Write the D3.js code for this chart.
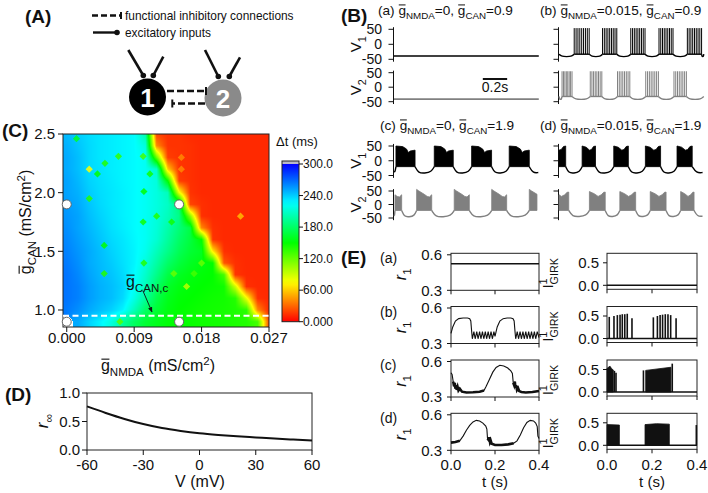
<!DOCTYPE html>
<html><head><meta charset="utf-8">
<script src="https://cdn.jsdelivr.net/npm/d3@7"></script>
<style>
body{margin:0;background:#fff;}
svg text{font-family:Arial,"Liberation Sans",Helvetica,sans-serif;fill:#111;}
</style></head><body>
<svg id="fig" width="708" height="493" xmlns="http://www.w3.org/2000/svg"></svg>
<script>
// ================= DATA =================
// Panel C: heat map of Δt (ms)
const cNMDA = [0,0.0015,0.003,0.0045,0.006,0.0075,0.009,0.0105,0.012,0.0135,0.015,0.0165,0.018,0.0195,0.021,0.0225,0.024,0.0255,0.027];
const cCAN = [2.5,2.4,2.3,2.2,2.1,2.0,1.9,1.8,1.7,1.6,1.5,1.4,1.3,1.2,1.1,1.0,0.9];
const cDelta = [
 [245,240,235,232,230,228,226,200,20,15,15,12,12,12,12,12,12,12,12],
 [248,242,236,232,230,228,226,215,40,15,15,14,12,12,12,12,12,12,12],
 [250,244,236,232,230,228,226,222,120,18,15,14,12,12,12,12,12,12,12],
 [250,244,236,233,230,228,226,222,210,60,15,14,12,12,12,12,12,12,12],
 [252,246,238,234,231,228,226,222,215,150,18,14,12,12,12,12,12,12,12],
 [252,248,240,235,232,229,226,222,216,205,80,15,12,12,12,12,12,12,12],
 [254,250,242,236,232,229,226,222,216,208,185,20,14,12,12,12,12,12,12],
 [256,252,244,238,233,229,226,222,215,205,190,110,14,12,12,12,12,12,12],
 [258,252,246,240,234,230,226,222,214,200,185,170,40,14,12,12,12,12,12],
 [260,254,248,242,236,232,227,222,212,196,180,168,150,15,12,12,12,12,12],
 [262,256,250,244,238,233,228,220,205,190,175,165,160,70,14,12,12,12,12],
 [264,258,250,245,240,234,228,215,198,180,168,160,155,150,25,14,12,12,12],
 [266,260,252,246,242,236,226,210,190,170,160,155,152,150,130,15,12,12,12],
 [266,262,254,248,244,238,224,205,180,162,155,152,150,148,146,90,14,12,12],
 [266,262,254,248,244,236,218,195,172,158,152,150,148,146,145,140,80,14,12],
 [264,258,250,244,238,228,205,180,165,155,150,148,146,145,144,142,138,40,12],
 [null,250,238,228,215,195,178,165,158,152,150,148,146,145,144,142,140,130,20]
];
// isolated grid points with a deviating Δt (small diamonds in the map): [gNMDA, gCAN, Δt]
const cSpots = [[0.0013,2.46,160],[0.003,2.2,75],[0.0041,2.16,150],[0.0051,2.25,140],[0.0069,2.31,135],[0.0102,2.31,130],
 [0.0111,2.16,145],[0.0103,2.01,150],[0.003,1.95,140],[0.0102,1.75,145],[0.012,1.8,140],[0.014,1.75,145],[0.005,1.55,150],
 [0.0103,1.4,140],[0.005,1.31,140],[0.0143,1.31,120],[0.016,1.2,95],[0.017,1.31,130],[0.018,1.4,120],[0.0071,0.9,125],
 [0.0232,1.8,55],[0.0153,2.3,40],[0.0153,2.2,40]];
const cXTicks = [0,0.009,0.018,0.027];
const cXTickLabels = ["0.000","0.009","0.018","0.027"];
const cYTicks = [1.0,1.5,2.0,2.5];
const cYTickLabels = ["1.0","1.5","2.0","2.5"];
const cMarkers = [[0,1.9],[0.015,1.9],[0,0.9],[0.015,0.9]];
const cCritical = 0.95;
const cbTicks = [0,60,120,180,240,300];
const cbTickLabels = ["0.000","60.00","120.0","180.0","240.0","300.0"];

// Panel D: r_inf(V)
const dV = [-60,-50,-40,-30,-20,-10,0,10,20,30,40,50,60];
const dRinf = [0.765,0.65,0.545,0.455,0.385,0.335,0.295,0.265,0.24,0.22,0.2,0.183,0.167];
const dXTicks = [-60,-30,0,30,60];
const dYTicks = [0,0.5,1.0];
const dYTickLabels = ["0.0","0.5","1.0"];

// Panel B: voltage traces (time in s, voltage in mV)
const bYTicks = [-50,0,50];
const bRestA = [-39,-41];
const bBurstsB1 = [[0.125,0.248],[0.358,0.475],[0.59,0.707],[0.822,0.937],[1.055,1.172]];
const bBurstsB2 = [[0.025,0.107],[0.257,0.352],[0.481,0.582],[0.713,0.817],[0.945,1.047]];
const bSpikesPerBurst = [9,8];
const bSpikePeak = [54,55];
const bBaseB = [-33,-32];
const bTroughB = [-41,-42];
const bBlocksC1 = [[0.016,0.173],[0.331,0.487],[0.638,0.802],[0.947,1.112]];
const bBlocksC2 = [[0.008,0.063,0.55,1],[0.186,0.31],[0.495,0.619],[0.803,0.926],[1.112,1.175,0,0.5]];
const bBlocksD1 = [[0,0.055,0.55,1],[0.19,0.30],[0.45,0.57],[0.71,0.835],[0.97,1.095]];
const bBlocksD2 = [[0,0.08,0.4,1],[0.25,0.38],[0.5,0.63],[0.75,0.88],[1.0,1.11]];
const bEnvC1 = [[0,50],[0.35,48],[0.55,40],[0.65,28],[0.75,33],[1,36]];
const bEnvC2 = [[0,56],[0.15,50],[0.5,38],[0.7,30],[0.85,28],[1,36]];
const bEnvD1 = [[0,50],[0.3,46],[0.55,36],[0.7,38],[0.85,48],[1,50]];
const bEnvD2 = [[0,48],[0.3,40],[0.55,30],[0.75,36],[0.9,45],[1,46]];
const bEndCD = [1.186,1.175,1.18,1.18];
const bBaseCD = [-20,-22,-20,-22];
const bTroughCD = [-42,-46,-42,-45];

// Panel E: r1 traces and I_GIRK traces (time in s)
const eR1a = [[0,0.525],[0.4,0.525]];
const eR1b = [[0,0.385],[0.008,0.44],[0.02,0.49],[0.035,0.51],[0.055,0.515],[0.075,0.515],[0.085,0.51],[0.09,0.49],[0.094,0.40],[0.097,0.34],
 [0.104,0.40],[0.11,0.34],[0.117,0.40],[0.123,0.34],[0.13,0.40],[0.136,0.34],[0.143,0.40],[0.149,0.34],[0.156,0.40],[0.162,0.34],[0.169,0.40],[0.175,0.34],[0.182,0.40],[0.188,0.34],[0.195,0.40],[0.2,0.36],
 [0.21,0.44],[0.222,0.49],[0.237,0.51],[0.255,0.515],[0.272,0.515],[0.282,0.51],[0.287,0.49],[0.291,0.40],[0.294,0.34],
 [0.301,0.40],[0.307,0.34],[0.314,0.40],[0.32,0.34],[0.327,0.40],[0.333,0.34],[0.34,0.40],[0.346,0.34],[0.353,0.40],[0.359,0.34],[0.366,0.40],[0.372,0.34],[0.379,0.40],[0.385,0.34],[0.392,0.40],[0.4,0.35]];
const eR1c = [[0,0.505],[0.005,0.49],[0.01,0.43],[0.014,0.39],[0.017,0.42],[0.02,0.37],[0.023,0.40],[0.026,0.36],[0.03,0.385],[0.034,0.355],[0.04,0.37],[0.05,0.345],[0.07,0.338],[0.1,0.34],[0.13,0.345],[0.15,0.355],[0.16,0.39],[0.175,0.45],[0.19,0.51],[0.205,0.55],[0.222,0.568],[0.24,0.562],[0.258,0.545],[0.272,0.52],[0.279,0.50],[0.283,0.42],[0.287,0.40],[0.29,0.43],[0.293,0.38],[0.296,0.40],[0.3,0.36],[0.305,0.375],[0.31,0.35],[0.32,0.342],[0.34,0.338],[0.37,0.342],[0.4,0.35]];
const eR1d = [[0,0.365],[0.02,0.37],[0.04,0.38],[0.055,0.42],[0.07,0.47],[0.085,0.51],[0.1,0.54],[0.115,0.553],[0.13,0.548],[0.145,0.53],[0.158,0.505],[0.163,0.48],[0.166,0.40],[0.17,0.39],[0.173,0.41],[0.177,0.37],[0.18,0.385],[0.185,0.355],[0.2,0.345],[0.23,0.345],[0.26,0.35],[0.285,0.36],[0.3,0.38],[0.315,0.43],[0.33,0.49],[0.345,0.535],[0.36,0.553],[0.375,0.548],[0.385,0.53],[0.392,0.50],[0.395,0.42],[0.4,0.40]];
const eR1Noise = [[], [], [[0.01,0.15],[0.283,0.4]], [[0,0.045],[0.166,0.29]]];
const eISpikes = [
 [],
 [[0.010,0.48],[0.031,0.5],[0.046,0.52],[0.058,0.53],[0.068,0.54],[0.079,0.54],[0.090,0.55],[0.111,0.45],[0.206,0.47],[0.224,0.5],[0.236,0.52],[0.247,0.53],[0.259,0.54],[0.271,0.54],[0.283,0.52],[0.307,0.45]],
 [[0.033,0.47],[0.04,0.43],[0.162,0.48],[0.29,0.63]],
 [[0.397,0.45]]
];
const eIBlocks = [
 [],
 [],
 [[[0,0.52],[0.008,0.56],[0.014,0.57],[0.02,0.52],[0.028,0.49]], [[0.172,0.48],[0.284,0.55]]],
 [[[0,0.46],[0.055,0.45]], [[0.169,0.46],[0.22,0.48],[0.277,0.47]]]
];
const eXTicks = [0,0.2,0.4];
const eXTickLabels = ["0.0","0.2","0.4"];
const eR1Ticks = [0.3,0.6];
const eITicks = [0,0.5];
const eRowLabels = ["(a)","(b)","(c)","(d)"];

// ================= HELPERS =================
const svg = d3.select("#fig");
function rich(parent, x, y, parts, fs, anchor, color) {
  color = color || "#111";
  const t = parent.append("text").attr("x",x).attr("y",y).attr("font-size",fs)
    .attr("text-anchor",anchor||"start").style("fill",color).attr("xml:space","preserve");
  let shift = 0, idx = 0; const bars = [];
  parts.forEach(p => {
    const target = p.sub ? fs*0.3 : (p.sup ? -fs*0.4 : 0);
    const ts = t.append("tspan").text(p.t);
    if (target !== shift) { ts.attr("dy", target - shift); shift = target; }
    if (p.dx) ts.attr("dx", p.dx);
    if (p.sub || p.sup) ts.attr("font-size", fs*0.72);
    if (p.italic) ts.style("font-style","italic");
    if (p.bar) bars.push({idx, sh: shift, f: (p.sub||p.sup)? fs*0.72 : fs});
    idx += p.t.length;
  });
  bars.forEach(b => {
    const e = t.node().getExtentOfChar(b.idx);
    const yy = y + b.sh - b.f*0.74;
    parent.append("line").attr("x1", e.x + e.width*0.05).attr("x2", e.x + e.width*0.95)
      .attr("y1", yy).attr("y2", yy).attr("stroke", color).attr("stroke-width", Math.max(1, b.f*0.07));
  });
  return t;
}
function plain(parent, x, y, s, fs, anchor, extra) {
  const t = parent.append("text").attr("x",x).attr("y",y).attr("font-size",fs).attr("text-anchor",anchor||"start").text(s);
  if (extra) Object.entries(extra).forEach(([k,v]) => t.attr(k,v));
  return t;
}
function envAt(env, f) {
  for (let i = 1; i < env.length; i++) {
    if (f <= env[i][0]) { const a = env[i-1], b = env[i]; return a[1] + (b[1]-a[1]) * (f-a[0])/(b[0]-a[0]); }
  }
  return env[env.length-1][1];
}
const BOLD = 19;

// ================= PANEL A =================
const gA = svg.append("g");
plain(gA, 25, 23, "(A)", BOLD, "start", {"font-weight":"bold"});
gA.append("line").attr("x1",92).attr("x2",120).attr("y1",15.5).attr("y2",15.5).attr("stroke","#111").attr("stroke-width",2.6).attr("stroke-dasharray","6,3");
gA.append("line").attr("x1",121).attr("x2",121).attr("y1",12).attr("y2",19).attr("stroke","#111").attr("stroke-width",2);
plain(gA, 125, 20, "functional inhibitory connections", 11.9);
gA.append("line").attr("x1",93).attr("x2",116).attr("y1",32.5).attr("y2",32.5).attr("stroke","#111").attr("stroke-width",2.4);
gA.append("circle").attr("cx",117).attr("cy",32.5).attr("r",2.8).attr("fill","#111");
plain(gA, 125, 37, "excitatory inputs", 11.9);
[[128.3,50,143.3,75.5],[163.3,56.7,153.3,75.5],[205,50,218.3,76.5],[240,57.3,229.3,76.5]].forEach(l => {
  gA.append("line").attr("x1",l[0]).attr("y1",l[1]).attr("x2",l[2]).attr("y2",l[3]).attr("stroke","#111").attr("stroke-width",2.6);
  gA.append("circle").attr("cx",l[2]).attr("cy",l[3]).attr("r",2.8).attr("fill","#111");
});
gA.append("circle").attr("cx",147.5).attr("cy",97).attr("r",18.5).attr("fill","#000");
gA.append("circle").attr("cx",223).attr("cy",98).attr("r",18.5).attr("fill","#8a8a8a");
plain(gA, 147.5, 106.5, "1", 26, "middle", {"font-weight":"bold"}).style("fill","#fff");
plain(gA, 223, 107.5, "2", 26, "middle", {"font-weight":"bold"}).style("fill","#fff");
gA.append("line").attr("x1",167).attr("x2",205).attr("y1",91).attr("y2",91).attr("stroke","#111").attr("stroke-width",2.4).attr("stroke-dasharray","7,3");
gA.append("line").attr("x1",206).attr("x2",206).attr("y1",87).attr("y2",95).attr("stroke","#111").attr("stroke-width",2);
gA.append("line").attr("x1",205).attr("x2",173).attr("y1",103.5).attr("y2",103.5).attr("stroke","#111").attr("stroke-width",2.4).attr("stroke-dasharray","7,3");
gA.append("line").attr("x1",172.3).attr("x2",172.3).attr("y1",99.5).attr("y2",107.5).attr("stroke","#111").attr("stroke-width",2);

// ================= PANEL B =================
const gB = svg.append("g");
plain(gB, 341, 22, "(B)", BOLD, "start", {"font-weight":"bold"});
const bX = [d3.scaleLinear().domain([0,1.2]).range([394,540]), d3.scaleLinear().domain([0,1.2]).range([559,705])];
const bAxisX = [393.5, 558.5];
const bY = [
  [d3.scaleLinear().domain([-50,50]).range([59.3,29.3]), d3.scaleLinear().domain([-50,50]).range([101.7,72.7])],
  [d3.scaleLinear().domain([-50,50]).range([175.5,146]), d3.scaleLinear().domain([-50,50]).range([218,191])]
];
const bCol = ["#000","#808080"];
[0,1].forEach(r => [0,1].forEach(c => [0,1].forEach(n => {
  const y = bY[r][n], ax = bAxisX[c];
  gB.append("line").attr("x1",ax).attr("x2",ax).attr("y1",y(57)).attr("y2",y(-58)).attr("stroke","#111").attr("stroke-width",1);
  bYTicks.forEach(v => {
    gB.append("line").attr("x1",ax-5).attr("x2",ax).attr("y1",y(v)).attr("y2",y(v)).attr("stroke","#111").attr("stroke-width",1);
    if (c === 0) plain(gB, 382, y(v), String(v), 14, "end", {"dy":"0.36em"});
  });
  if (c === 0) {
    const cy = (y(50)+y(-50))/2;
    const g = gB.append("g").attr("transform",`translate(361,${cy}) rotate(-90)`);
    rich(g, 0, 0, [{t:"V"},{t:String(n+1), sub:true}], 15, "middle");
  }
})));
const bTitles = [[378,15,"(a)","0","0.9"],[540,15,"(b)","0.015","0.9"],[380,130,"(c)","0","1.9"],[540,130,"(d)","0.015","1.9"]];
bTitles.forEach(tt => rich(gB, tt[0], tt[1], [{t:tt[2]+" "},{t:"g",bar:true},{t:"NMDA",sub:true},{t:"="+tt[3]+", "},{t:"g",bar:true},{t:"CAN",sub:true},{t:"="+tt[4]}], 13.6));
[0,1].forEach(n => {
  gB.append("line").attr("x1",bX[0](0)).attr("x2",bX[0](1.19)).attr("y1",bY[0][n](bRestA[n])).attr("y2",bY[0][n](bRestA[n]))
    .attr("stroke",bCol[n]).attr("stroke-width",1.6);
});
gB.append("line").attr("x1",bX[0](0.73)).attr("x2",bX[0](0.93)).attr("y1",79).attr("y2",79).attr("stroke","#111").attr("stroke-width",2);
plain(gB, bX[0](0.83), 92, "0.2s", 14, "middle");
const lineBasis = d3.line().curve(d3.curveBasis);
[bBurstsB1, bBurstsB2].forEach((bursts, n) => {
  const x = bX[1], y = bY[0][n], base = bBaseB[n], tr = bTroughB[n];
  const g = gB.append("g").attr("stroke",bCol[n]).attr("fill","none");
  const edges = [0, ...bursts.flat(), 1.19];
  for (let i = 0; i < edges.length; i += 2) {
    const a = edges[i], b = edges[i+1], gw = b - a;
    if (gw <= 0) continue;
    const pts = [[a,base],[a+0.2*gw,tr],[a+0.5*gw,tr],[b-0.2*gw,tr],[b,base]].map(p => [x(p[0]), y(p[1])]);
    g.append("path").attr("d", lineBasis(pts)).attr("stroke-width",1.4);
  }
  bursts.forEach(bu => {
    g.append("line").attr("x1",x(bu[0])).attr("x2",x(bu[1])).attr("y1",y(base)).attr("y2",y(base)).attr("stroke-width",1.4);
    const ns = bSpikesPerBurst[n];
    d3.range(ns).forEach(k => {
      const t = bu[0] + k*(bu[1]-bu[0])/(ns-1);
      g.append("line").attr("x1",x(t)).attr("x2",x(t)).attr("y1",y(base)).attr("y2",y(bSpikePeak[n])).attr("stroke-width",1);
    });
  });
});
const cdSpecs = [[bBlocksC1,bEnvC1,0,0],[bBlocksC2,bEnvC2,0,1],[bBlocksD1,bEnvD1,1,0],[bBlocksD2,bEnvD2,1,1]];
cdSpecs.forEach((sp, k) => {
  const [blocks, env, c, n] = sp;
  const x = bX[c], y = bY[1][n], base = bBaseCD[k], tr = bTroughCD[k], tEnd = bEndCD[k];
  const g = gB.append("g");
  const edges = [0, ...blocks.map(b => [b[0], b[1]]).flat(), tEnd];
  for (let i = 0; i < edges.length; i += 2) {
    const a = edges[i], b = edges[i+1], gw = b - a;
    if (gw <= 0.002) continue;
    let pts;
    if (i === 0) pts = [[a,tr+6],[a+0.5*gw,tr+3],[b,base]];
    else if (i === edges.length-2) pts = [[a,base],[a+Math.min(0.05,0.4*gw),tr],[b,tr+2]];
    else pts = [[a,base],[a+0.18*gw,tr],[a+0.5*gw,tr],[b-0.15*gw,tr+4],[b,base]];
    g.append("path").attr("d", lineBasis(pts.map(p => [x(p[0]), y(p[1])]))).attr("fill","none").attr("stroke",bCol[n]).attr("stroke-width",1.4);
  }
  blocks.forEach(bl => {
    const t0 = bl[0], t1 = bl[1], f0 = bl.length > 2 ? bl[2] : 0, f1 = bl.length > 2 ? bl[3] : 1;
    const fsArr = [f0, ...env.map(e => e[0]).filter(f => f > f0 && f < f1), f1];
    const pts = [[x(t0), y(base)]];
    fsArr.forEach(f => pts.push([x(t0 + (f-f0)/(f1-f0)*(t1-t0)), y(envAt(env,f))]));
    pts.push([x(t1), y(base)]);
    g.append("path").attr("d", d3.line()(pts) + "Z").attr("fill",bCol[n]).attr("stroke",bCol[n]).attr("stroke-width",0.8);
  });
});

// ================= PANEL C =================
const gC = svg.append("g");
plain(gC, 2, 137, "(C)", BOLD, "start", {"font-weight":"bold"});
const cx = d3.scaleLinear().domain([-0.0005, 0.027]).range([63, 269]);
const cy = d3.scaleLinear().domain([0.855, 2.5]).range([327, 134]);
const colorOf = v => d3.hsl(240*Math.max(0,Math.min(300,v))/300, 1, 0.5);
{
  const W = 206, H = 193;
  const canvas = document.createElement("canvas"); canvas.width = W; canvas.height = H;
  const ctx = canvas.getContext("2d"); const img = ctx.createImageData(W, H);
  const xi = d3.scaleLinear().domain(cNMDA).range(d3.range(cNMDA.length)).clamp(true);
  const yi = d3.scaleLinear().domain(cCAN).range(d3.range(cCAN.length)).clamp(true);
  for (let py = 0; py < H; py++) {
    const fj = yi(cy.invert(134 + py + 0.5));
    const j0 = Math.floor(fj), j1 = Math.min(j0+1, cCAN.length-1), ty = fj - j0;
    for (let px = 0; px < W; px++) {
      const fi = xi(cx.invert(63 + px + 0.5));
      const i0 = Math.floor(fi), i1 = Math.min(i0+1, cNMDA.length-1), tx = fi - i0;
      const corners = [[cDelta[j0][i0],(1-tx)*(1-ty)],[cDelta[j0][i1],tx*(1-ty)],[cDelta[j1][i0],(1-tx)*ty],[cDelta[j1][i1],tx*ty]];
      let s = 0, w = 0, wn = 0;
      corners.forEach(([v,wt]) => { if (v === null) wn += wt; else { s += v*wt; w += wt; } });
      const o = (py*W + px)*4;
      if (wn > 0.45 || w === 0) { img.data[o]=255; img.data[o+1]=255; img.data[o+2]=255; img.data[o+3]=255; continue; }
      const c = d3.rgb(colorOf(s/w));
      img.data[o]=c.r; img.data[o+1]=c.g; img.data[o+2]=c.b; img.data[o+3]=255;
    }
  }
  ctx.putImageData(img, 0, 0);
  gC.append("image").attr("x",63).attr("y",134).attr("width",W).attr("height",H).attr("href", canvas.toDataURL());
}
cSpots.forEach(s => {
  const px = cx(s[0]), py = cy(s[1]);
  gC.append("path").attr("d", `M${px},${py-3.6}L${px+3.6},${py}L${px},${py+3.6}L${px-3.6},${py}Z`)
    .attr("fill", colorOf(s[2]).formatHex()).attr("opacity",0.85);
});
gC.append("rect").attr("x",63).attr("y",134).attr("width",206).attr("height",193).attr("fill","none").attr("stroke","#222").attr("stroke-width",1);
cXTicks.forEach((v,i) => {
  gC.append("line").attr("x1",cx(v)).attr("x2",cx(v)).attr("y1",327).attr("y2",332).attr("stroke","#111");
  plain(gC, cx(v), 343, cXTickLabels[i], 15, "middle");
});
cYTicks.forEach((v,i) => {
  gC.append("line").attr("x1",58).attr("x2",63).attr("y1",cy(v)).attr("y2",cy(v)).attr("stroke","#111");
  plain(gC, 55, cy(v), cYTickLabels[i], 15, "end", {"dy":"0.36em"});
});
gC.append("line").attr("x1",63).attr("x2",269).attr("y1",cy(cCritical)).attr("y2",cy(cCritical)).attr("stroke","#fff").attr("stroke-width",2).attr("stroke-dasharray","6,3.5");
cMarkers.forEach(m => gC.append("circle").attr("cx",cx(m[0])).attr("cy",cy(m[1])).attr("r",4.5).attr("fill","#fff").attr("stroke","#666").attr("stroke-width",1));
rich(gC, 126, 287, [{t:"g",bar:true},{t:"CAN,c",sub:true}], 16);
gC.append("defs").append("marker").attr("id","arr").attr("viewBox","0 0 10 10").attr("refX",9).attr("refY",5)
  .attr("markerWidth",6).attr("markerHeight",6).attr("orient","auto").append("path").attr("d","M0,1 L10,5 L0,9 Z").attr("fill","#111");
gC.append("line").attr("x1",143).attr("y1",291).attr("x2",152).attr("y2",312).attr("stroke","#111").attr("stroke-width",0.9).attr("marker-end","url(#arr)");
{
  const g = gC.append("g").attr("transform","translate(31,222) rotate(-90)");
  rich(g, 0, 0, [{t:"g",bar:true},{t:"CAN",sub:true},{t:" (mS/cm"},{t:"2",sup:true},{t:")"}], 16, "middle");
}
rich(gC, 158, 371, [{t:"g",bar:true},{t:"NMDA",sub:true},{t:" (mS/cm"},{t:"2",sup:true},{t:")"}], 16, "middle");
{
  const cbY = d3.scaleLinear().domain([0,300]).range([321.7,164]);
  const grad = svg.append("defs").append("linearGradient").attr("id","cbg").attr("x1",0).attr("x2",0).attr("y1",1).attr("y2",0);
  d3.range(0,301,10).forEach(v => grad.append("stop").attr("offset", v/300).attr("stop-color", colorOf(v).formatHex()));
  gC.append("rect").attr("x",282).attr("y",161).attr("width",17).attr("height",3).attr("fill","#b8b8c8");
  gC.append("rect").attr("x",282).attr("y",164).attr("width",17).attr("height",157.7).attr("fill","url(#cbg)");
  gC.append("rect").attr("x",282).attr("y",161).attr("width",17).attr("height",160.7).attr("fill","none").attr("stroke","#222").attr("stroke-width",1);
  cbTicks.forEach((v,i) => {
    gC.append("line").attr("x1",299).attr("x2",303).attr("y1",cbY(v)).attr("y2",cbY(v)).attr("stroke","#111");
    plain(gC, 303, cbY(v), cbTickLabels[i], 12, "start", {"dy":"0.36em"});
  });
  plain(gC, 276, 146, "Δt (ms)", 13, "start");
}

// ================= PANEL D =================
const gD = svg.append("g");
plain(gD, 5, 401, "(D)", BOLD, "start", {"font-weight":"bold"});
const dx = d3.scaleLinear().domain([-60,60]).range([87,312]);
const dy = d3.scaleLinear().domain([0,1]).range([450,393]);
gD.append("rect").attr("x",87).attr("y",393).attr("width",225).attr("height",57).attr("fill","none").attr("stroke","#222");
dXTicks.forEach(v => {
  gD.append("line").attr("x1",dx(v)).attr("x2",dx(v)).attr("y1",450).attr("y2",455).attr("stroke","#111");
  plain(gD, dx(v), 470, String(v), 15, "middle");
});
dYTicks.forEach((v,i) => {
  gD.append("line").attr("x1",82).attr("x2",87).attr("y1",dy(v)).attr("y2",dy(v)).attr("stroke","#111");
  plain(gD, 80, dy(v), dYTickLabels[i], 15, "end", {"dy":"0.36em"});
});
gD.append("path").attr("d", d3.line().curve(d3.curveMonotoneX)(dV.map((v,i) => [dx(v), dy(dRinf[i])]))).attr("fill","none").attr("stroke","#111").attr("stroke-width",2);
plain(gD, 200, 487, "V (mV)", 16, "middle");
{
  const g = gD.append("g").attr("transform","translate(48,421) rotate(-90)");
  rich(g, 0, 0, [{t:"r",italic:true},{t:"∞",sub:true}], 17, "middle");
}

// ================= PANEL E =================
const gE = svg.append("g");
plain(gE, 341, 264, "(E)", BOLD, "start", {"font-weight":"bold"});
const eTop = [253.3, 306.5, 360, 413.3];
const eXL = d3.scaleLinear().domain([0,0.4]).range([451,539]);
const eXR = d3.scaleLinear().domain([0,0.4]).range([607,697]);
const eR1 = [eR1a, eR1b, eR1c, eR1d];
eTop.forEach((top, r) => {
  const yR = d3.scaleLinear().domain([0.3,0.6]).range([top+37, top+1.5]);
  const yI = d3.scaleLinear().domain([0,0.5]).range([top+32, top+9.5]);
  plain(gE, 380, top+10, eRowLabels[r], 14);
  gE.append("rect").attr("x",451).attr("y",top).attr("width",88).attr("height",37).attr("fill","none").attr("stroke","#222");
  gE.append("rect").attr("x",607).attr("y",top).attr("width",90).attr("height",36).attr("fill","none").attr("stroke","#222");
  eXTicks.forEach((v,i) => {
    gE.append("line").attr("x1",eXL(v)).attr("x2",eXL(v)).attr("y1",top+37).attr("y2",top+41).attr("stroke","#111");
    gE.append("line").attr("x1",eXR(v)).attr("x2",eXR(v)).attr("y1",top+36).attr("y2",top+40).attr("stroke","#111");
    if (r === 3) {
      plain(gE, eXL(v), 470, eXTickLabels[i], 15, "middle");
      plain(gE, eXR(v), 470, eXTickLabels[i], 15, "middle");
    }
  });
  eR1Ticks.forEach(v => {
    gE.append("line").attr("x1",447).attr("x2",451).attr("y1",yR(v)).attr("y2",yR(v)).attr("stroke","#111");
    plain(gE, 442, yR(v), v.toFixed(1), 15, "end", {"dy":"0.36em"});
  });
  eITicks.forEach(v => {
    gE.append("line").attr("x1",603).attr("x2",607).attr("y1",yI(v)).attr("y2",yI(v)).attr("stroke","#111");
    plain(gE, 599, yI(v), v.toFixed(1), 15, "end", {"dy":"0.36em"});
  });
  {
    const g = gE.append("g").attr("transform",`translate(406,${top+21}) rotate(-90)`);
    rich(g, 0, 0, [{t:"r",italic:true},{t:"1",sub:true}], 16, "middle");
    const g2 = gE.append("g").attr("transform",`translate(553,${top+20}) rotate(-90)`);
    rich(g2, 0, 0, [{t:"I"},{t:"1",sup:true},{t:"GIRK",sub:true,dx:-6}], 15, "middle");
  }
  const line = d3.line().x(d => eXL(d[0])).y(d => yR(d[1]));
  gE.append("path").attr("d", line(eR1[r])).attr("fill","none").attr("stroke","#111").attr("stroke-width", r === 0 ? 1.6 : 1.1);
  eR1Noise[r].forEach(seg => {
    const pts = eR1[r].filter(p => p[0] >= seg[0] && p[0] <= seg[1]);
    if (pts.length > 1) gE.append("path").attr("d", line(pts)).attr("fill","none").attr("stroke","#111").attr("stroke-width",2.6);
  });
  gE.append("line").attr("x1",eXR(0)).attr("x2",eXR(0.4)).attr("y1",yI(0)).attr("y2",yI(0)).attr("stroke","#111").attr("stroke-width",1.4);
  eIBlocks[r].forEach(bl => {
    const pts = [[eXR(bl[0][0]), yI(0)], ...bl.map(p => [eXR(p[0]), yI(p[1])]), [eXR(bl[bl.length-1][0]), yI(0)]];
    gE.append("path").attr("d", d3.line()(pts)+"Z").attr("fill","#111").attr("stroke","#111").attr("stroke-width",0.8);
  });
  eISpikes[r].forEach(s => {
    gE.append("line").attr("x1",eXR(s[0])).attr("x2",eXR(s[0])).attr("y1",yI(0)).attr("y2",yI(s[1])).attr("stroke","#111").attr("stroke-width",1.6);
  });
});
plain(gE, 495, 487, "t (s)", 15, "middle");
plain(gE, 652, 487, "t (s)", 15, "middle");
</script>
</body></html>
